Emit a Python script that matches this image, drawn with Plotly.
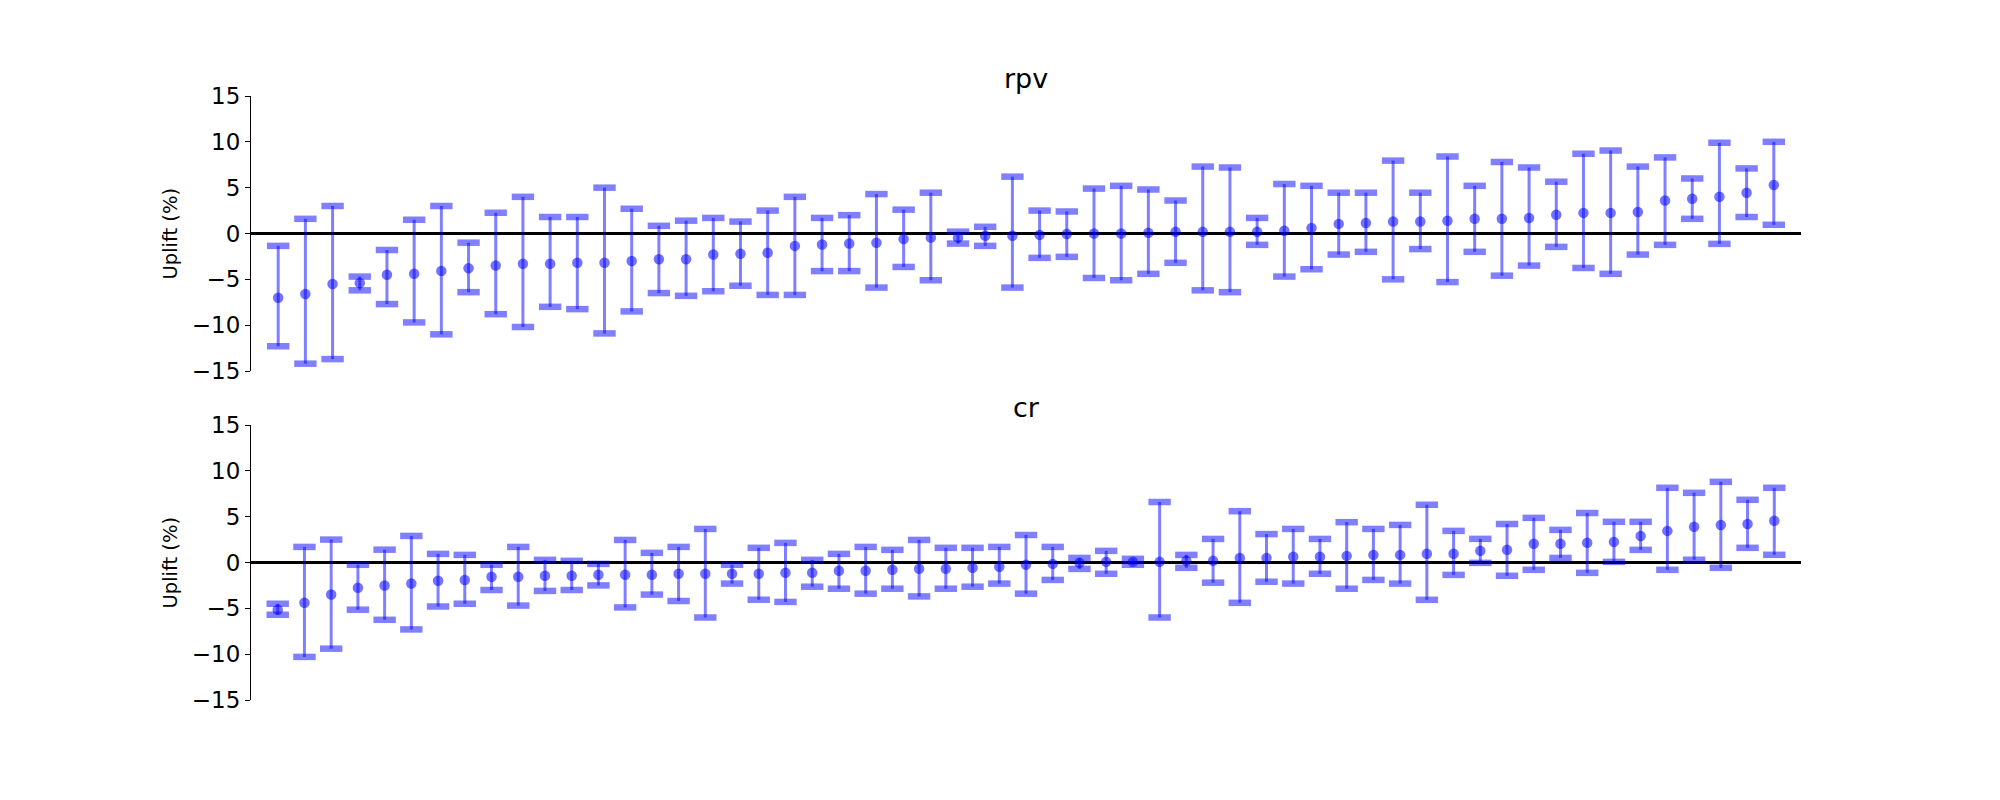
import numpy as np
import plotly.graph_objects as go

# ---- data: rpv (top panel) ----
rpv_mean = [-7.0, -6.6, -5.5, -5.4, -4.5, -4.4, -4.1, -3.8, -3.5, -3.3,
            -3.3, -3.2, -3.2, -3.0, -2.8, -2.8, -2.3, -2.2, -2.1, -1.35,
            -1.2, -1.1, -1.0, -0.6, -0.45, -0.45, -0.25, -0.25, -0.15, -0.05,
            0.0, 0.0, 0.07, 0.18, 0.18, 0.18, 0.18, 0.3, 0.6, 1.05,
            1.15, 1.3, 1.3, 1.4, 1.6, 1.6, 1.7, 2.05, 2.25, 2.25,
            2.35, 3.6, 3.8, 4.0, 4.45, 5.3]
rpv_lo = [-12.3, -14.2, -13.7, -6.2, -7.7, -9.7, -11.0, -6.4, -8.8, -10.2,
          -8.0, -8.25, -10.9, -8.5, -6.5, -6.8, -6.3, -5.7, -6.7, -6.7,
          -4.1, -4.1, -5.9, -3.65, -5.1, -1.1, -1.35, -5.9, -2.66, -2.55,
          -4.85, -5.1, -4.4, -3.2, -6.2, -6.4, -1.24, -4.7, -3.9, -2.3,
          -2.0, -5.0, -1.7, -5.3, -2.0, -4.6, -3.5, -1.46, -3.76, -4.4,
          -2.3, -1.24, 1.6, -1.13, 1.8, 0.95]
rpv_hi = [-1.35, 1.6, 3.0, -4.7, -1.8, 1.5, 3.0, -1.0, 2.26, 4.0,
          1.8, 1.8, 5.0, 2.7, 0.84, 1.4, 1.7, 1.3, 2.5, 4.0,
          1.7, 2.0, 4.3, 2.6, 4.45, 0.2, 0.73, 6.2, 2.5, 2.4,
          4.9, 5.2, 4.8, 3.6, 7.3, 7.2, 1.7, 5.4, 5.2, 4.45,
          4.45, 7.95, 4.45, 8.4, 5.2, 7.8, 7.2, 5.65, 8.7, 9.05,
          7.3, 8.3, 6.0, 9.9, 7.1, 10.0]

# ---- data: cr (bottom panel) ----
cr_mean = [-5.15, -4.4, -3.5, -2.75, -2.5, -2.3, -2.0, -1.9, -1.56, -1.56, -1.45, -1.45, -1.34, -1.34,
           -1.34, -1.23, -1.23, -1.23, -1.23, -1.12, -1.12, -0.9, -0.9, -0.8, -0.69, -0.69, -0.58, -0.47, -0.25,
           -0.15, -0.04, 0.07, 0.07, 0.07, 0.18, 0.18, 0.5, 0.5, 0.62, 0.62, 0.72, 0.83, 0.83,
           0.95, 0.95, 1.27, 1.38, 2.04, 2.04, 2.15, 2.25, 2.9, 3.45, 3.9, 4.1, 4.2, 4.55]
cr_lo = [-5.7, -10.3, -9.4, -5.15, -6.25, -7.3, -4.8, -4.5, -3.0, -4.7, -3.1, -3.0, -2.5, -4.9,
         -3.5, -4.2, -6.0, -2.3, -4.06, -4.3, -2.64, -2.86, -3.4, -2.86, -3.7, -2.86, -2.64, -2.3, -3.4,
         -1.9, -0.7, -1.23, -0.25, -6.0, -0.58, -2.2, -4.4, -2.1, -2.3, -1.23, -2.86, -1.9, -2.3,
         -4.07, -1.35, -0.04, -1.45, -0.8, 0.5, -1.13, 0.07, 1.38, -0.8, 0.3, -0.58, 1.6, 0.84]
cr_hi = [-4.5, 1.7, 2.5, -0.25, 1.4, 2.9, 0.94, 0.83, -0.25, 1.7, 0.29, 0.18, -0.15, 2.46,
         1.05, 1.7, 3.66, -0.25, 1.6, 2.14, 0.29, 0.94, 1.7, 1.38, 2.46, 1.6, 1.6, 1.7, 3.0,
         1.7, 0.5, 1.27, 0.4, 6.6, 0.83, 2.57, 5.6, 3.1, 3.66, 2.57, 4.4, 3.66, 4.1,
         6.3, 3.45, 2.58, 4.2, 4.87, 3.56, 5.4, 4.44, 4.44, 8.15, 7.6, 8.8, 6.84, 8.15]

panels = [("rpv", rpv_mean, rpv_lo, rpv_hi), ("cr", cr_mean, cr_lo, cr_hi)]
y_ticks = [-15, -10, -5, 0, 5, 10, 15]

BLUE = "rgba(0,0,255,0.5)"
FONT = "DejaVu Sans"

W, H = 2000, 800
OFF = 8  # default page body margin


def px_x(v):
    return (v - OFF) / W


def px_y(v):
    return 1 - (v - OFF) / H


x_dom = [px_x(251), px_x(1801)]
y_doms = [[px_y(371), px_y(96)], [px_y(700), px_y(425)]]

fig = go.Figure()

for i, (name, mean, lo, hi) in enumerate(panels):
    n = len(mean)
    x = np.arange(n)
    m = np.array(mean)
    l = np.array(lo)
    h = np.array(hi)
    xa = "x" if i == 0 else "x2"
    ya = "y" if i == 0 else "y2"
    # caps
    fig.add_trace(go.Scatter(
        x=np.concatenate([x, x]), y=np.concatenate([l, h]), mode="markers",
        marker=dict(symbol="line-ew", size=16, color=BLUE,
                    line=dict(width=6.5, color=BLUE)),
        xaxis=xa, yaxis=ya, showlegend=False, hoverinfo="skip"))
    # means + vertical bars
    fig.add_trace(go.Scatter(
        x=x, y=m, mode="markers",
        marker=dict(symbol="circle", size=10.5, color="rgba(0,0,255,0.55)",
                    line=dict(width=0)),
        error_y=dict(type="data", symmetric=False, array=h - m, arrayminus=m - l,
                     thickness=3, width=0, color=BLUE),
        xaxis=xa, yaxis=ya, showlegend=False))

layout_axes = {}
for i, (name, mean, lo, hi) in enumerate(panels):
    n = len(mean)
    sx = "" if i == 0 else "2"
    layout_axes["xaxis" + sx] = dict(domain=x_dom, range=[-1, n], visible=False,
                                     anchor="y" + sx, automargin=False)
    layout_axes["yaxis" + sx] = dict(
        domain=y_doms[i], range=[-15, 15], tickvals=y_ticks, anchor="x" + sx,
        automargin=False,
        showline=True, linecolor="black", linewidth=1.1,
        ticks="outside", ticklen=5, tickwidth=1.1, tickcolor="black",
        showgrid=False, zeroline=True, zerolinecolor="black", zerolinewidth=2.5,
        tickfont=dict(family=FONT, size=23, color="black"))

annotations = []
for i, (name, mean, lo, hi) in enumerate(panels):
    annotations.append(dict(text=name, xref="paper", yref="paper",
                            x=(x_dom[0] + x_dom[1]) / 2, y=y_doms[i][1],
                            xanchor="center", yanchor="bottom", showarrow=False,
                            font=dict(family=FONT, size=27, color="black")))
    annotations.append(dict(text="Uplift (%)", xref="paper", yref="paper",
                            x=px_x(170), y=(y_doms[i][0] + y_doms[i][1]) / 2,
                            xanchor="center", yanchor="middle", textangle=-90,
                            showarrow=False,
                            font=dict(family=FONT, size=19.5, color="black")))

fig.update_layout(
    width=W, height=H,
    margin=dict(l=0, r=0, t=0, b=0, autoexpand=False),
    paper_bgcolor="white", plot_bgcolor="white",
    font=dict(family=FONT, color="black"),
    annotations=annotations,
    **layout_axes)

fig.write_html("out.html")
